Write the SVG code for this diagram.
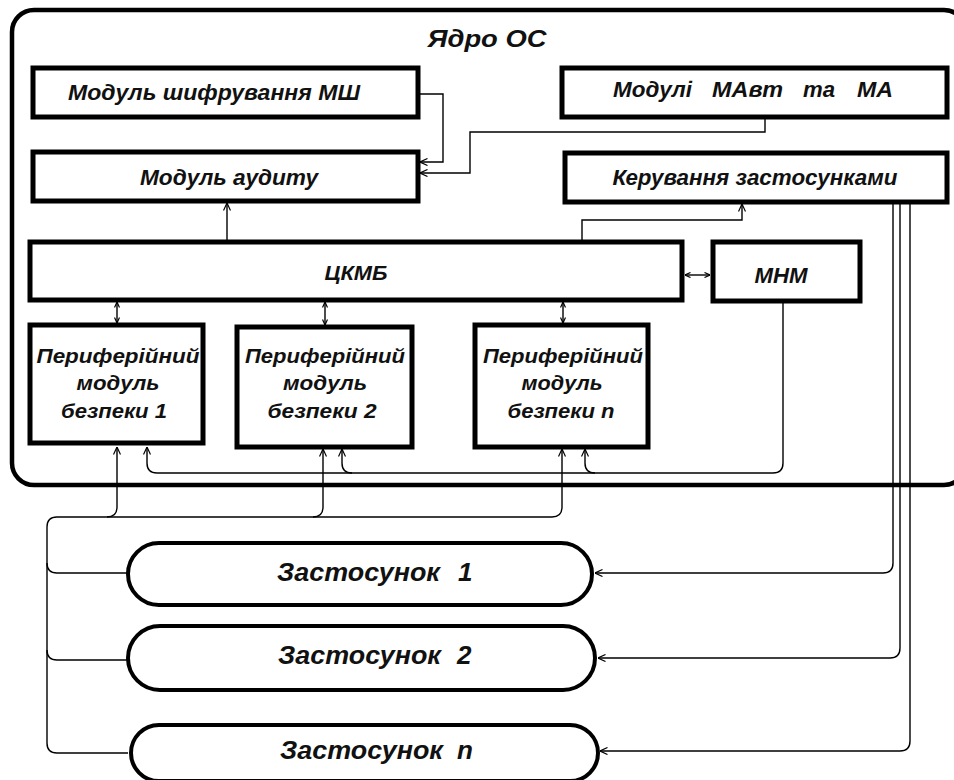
<svg xmlns="http://www.w3.org/2000/svg" width="954" height="780" viewBox="0 0 954 780">
<defs>
<style>
.box{fill:#fff;stroke:#000;stroke-width:5}
.pill{fill:#fff;stroke:#000;stroke-width:4}
.frame{fill:#fff;stroke:#000;stroke-width:4.5}
.t{font-family:"Liberation Sans",Arial,sans-serif;font-weight:bold;font-style:italic;fill:#111}
.m{text-anchor:middle}
.c{fill:none;stroke:#000;stroke-width:1.4}
</style>
<marker id="a" viewBox="0 0 8 8" refX="8" refY="4" markerWidth="8" markerHeight="8" markerUnits="userSpaceOnUse" orient="auto-start-reverse">
<path d="M0.5,0.5 L8,4 L0.5,7.5" fill="none" stroke="#000" stroke-width="1.2"/>
</marker>
<marker id="s" viewBox="0 0 6 6" refX="6" refY="3" markerWidth="6" markerHeight="6" markerUnits="userSpaceOnUse" orient="auto-start-reverse">
<path d="M0.5,0.5 L6,3 L0.5,5.5" fill="none" stroke="#000" stroke-width="1.2"/>
</marker>
</defs>
<rect width="954" height="780" fill="#fff"/>

<g id="kernel">
<rect class="frame" x="12" y="10" width="954" height="475" rx="22"/>
<text class="t m" x="487" y="47" font-size="24" textLength="119" lengthAdjust="spacingAndGlyphs">Ядро ОС</text>
</g>

<g id="connectors">
<path class="c" d="M418,94 H443 V162 H420" marker-end="url(#a)"/>
<path class="c" d="M765,117 V132 H470 V173 H420" marker-end="url(#a)"/>
<path class="c" d="M227,242 V203" marker-end="url(#a)"/>
<path class="c" d="M582,242 V220 H742 V204" marker-end="url(#a)"/>
<path class="c" d="M685,275 H710" marker-start="url(#s)" marker-end="url(#s)"/>
<path class="c" d="M117,302 V323" marker-start="url(#s)" marker-end="url(#s)"/>
<path class="c" d="M325,302 V325" marker-start="url(#s)" marker-end="url(#s)"/>
<path class="c" d="M563,302 V323" marker-start="url(#s)" marker-end="url(#s)"/>
<path class="c" d="M783,302 V463 Q783,473 773,473 H157 Q147,473 147,463 V447" marker-end="url(#a)"/>
<path class="c" d="M352,473 Q342,473 342,463 V449" marker-end="url(#a)"/>
<path class="c" d="M595,473 Q585,473 585,463 V449" marker-end="url(#a)"/>
<path class="c" d="M128,753 H57 Q47,753 47,743 V527 Q47,517 57,517 H552 Q562,517 562,507 V449" marker-end="url(#a)"/>
<path class="c" d="M128,573 H57 Q47,573 47,563"/>
<path class="c" d="M128,660 H57 Q47,660 47,650"/>
<path class="c" d="M107,517 Q117,517 117,507 V447" marker-end="url(#a)"/>
<path class="c" d="M313,517 Q323,517 323,507 V449" marker-end="url(#a)"/>
<path class="c" d="M893,202 V563 Q893,573 883,573 H595" marker-end="url(#a)"/>
<path class="c" d="M900,202 V648 Q900,658 890,658 H598" marker-end="url(#a)"/>
<path class="c" d="M910,202 V741 Q910,751 900,751 H600" marker-end="url(#a)"/>
</g>

<g id="msh">
<rect class="box" x="33" y="68" width="385" height="49"/>
<text class="t m" x="214" y="100" font-size="22" textLength="292" lengthAdjust="spacingAndGlyphs">Модуль шифрування МШ</text>
</g>
<g id="audit">
<rect class="box" x="33" y="152" width="385" height="49"/>
<text class="t m" x="229" y="185" font-size="22" textLength="178" lengthAdjust="spacingAndGlyphs">Модуль аудиту</text>
</g>
<g id="mavt">
<rect class="box" x="562" y="68" width="385" height="49"/>
<text class="t" y="97" font-size="22"><tspan x="613" textLength="79" lengthAdjust="spacingAndGlyphs">Модулі</tspan> <tspan x="712" textLength="71" lengthAdjust="spacingAndGlyphs">МАвт</tspan> <tspan x="803" textLength="32" lengthAdjust="spacingAndGlyphs">та</tspan> <tspan x="857" textLength="36" lengthAdjust="spacingAndGlyphs">МА</tspan></text>
</g>
<g id="apps-control">
<rect class="box" x="565" y="153" width="382" height="49"/>
<text class="t m" x="755" y="185" font-size="22" textLength="285" lengthAdjust="spacingAndGlyphs">Керування застосунками</text>
</g>
<g id="ckmb">
<rect class="box" x="30" y="242" width="652" height="58"/>
<text class="t m" x="356" y="280" font-size="21" textLength="63" lengthAdjust="spacingAndGlyphs">ЦКМБ</text>
</g>
<g id="mnm">
<rect class="box" x="713" y="242" width="147" height="59"/>
<text class="t m" x="781" y="283" font-size="22" textLength="53" lengthAdjust="spacingAndGlyphs">МНМ</text>
</g>
<g id="pm1">
<rect class="box" x="30" y="325" width="173" height="118"/>
<text class="t m" font-size="21"><tspan x="118" y="363" textLength="163" lengthAdjust="spacingAndGlyphs">Периферійний</tspan><tspan x="118" y="390" textLength="83" lengthAdjust="spacingAndGlyphs">модуль</tspan><tspan x="114" y="418" textLength="106" lengthAdjust="spacingAndGlyphs">безпеки 1</tspan></text>
</g>
<g id="pm2">
<rect class="box" x="237" y="327" width="175" height="120"/>
<text class="t m" font-size="21"><tspan x="325" y="363" textLength="160" lengthAdjust="spacingAndGlyphs">Периферійний</tspan><tspan x="325" y="390" textLength="84" lengthAdjust="spacingAndGlyphs">модуль</tspan><tspan x="322" y="418" textLength="109" lengthAdjust="spacingAndGlyphs">безпеки 2</tspan></text>
</g>
<g id="pmn">
<rect class="box" x="475" y="325" width="173" height="122"/>
<text class="t m" font-size="21"><tspan x="563" y="363" textLength="160" lengthAdjust="spacingAndGlyphs">Периферійний</tspan><tspan x="562" y="390" textLength="81" lengthAdjust="spacingAndGlyphs">модуль</tspan><tspan x="561" y="418" textLength="107" lengthAdjust="spacingAndGlyphs">безпеки n</tspan></text>
</g>
<g id="app1">
<rect class="pill" x="128" y="543" width="464" height="62" rx="31"/>
<text class="t" y="581" font-size="26"><tspan x="277" textLength="163" lengthAdjust="spacingAndGlyphs">Застосунок</tspan> <tspan x="458">1</tspan></text>
</g>
<g id="app2">
<rect class="pill" x="128" y="626" width="467" height="64" rx="32"/>
<text class="t" y="664" font-size="26"><tspan x="278" textLength="163" lengthAdjust="spacingAndGlyphs">Застосунок</tspan> <tspan x="457">2</tspan></text>
</g>
<g id="appn">
<rect class="pill" x="131" y="725" width="467" height="56" rx="28"/>
<text class="t" y="759" font-size="26"><tspan x="280" textLength="163" lengthAdjust="spacingAndGlyphs">Застосунок</tspan> <tspan x="457">n</tspan></text>
</g>
</svg>
